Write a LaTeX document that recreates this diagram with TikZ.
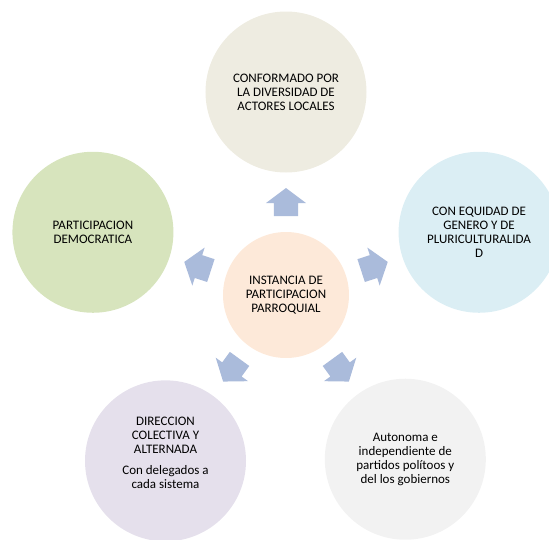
\documentclass[tikz,border=0pt]{standalone}
\usepackage{fontspec}
\setmainfont{Carlito}
\usepackage{tikz}

\definecolor{hubpeach}{RGB}{253,233,217}
\definecolor{tanfill}{RGB}{238,236,225}
\definecolor{greenfill}{RGB}{215,228,189}
\definecolor{bluefill}{RGB}{219,238,244}
\definecolor{lilacfill}{RGB}{229,224,236}
\definecolor{greyfill}{RGB}{242,242,242}
\definecolor{arrowblue}{RGB}{170,187,219}

\begin{document}
\begin{tikzpicture}[
    font=\fontsize{13}{14}\selectfont,
    bubble/.style={circle, minimum size=161pt, inner sep=0pt, align=center},
    hub/.style={circle, minimum size=126pt, inner sep=0pt, align=center, fill=hubpeach},
    blockarrow/.style={fill=arrowblue}
]
    \useasboundingbox (-286pt,-244pt) rectangle (263pt,295pt);

    % centre
    \node[hub] (hub) at (0,0) {INSTANCIA DE\\PARTICIPACION\\PARROQUIAL};

    % outer circles
    \node[bubble, fill=tanfill] (actores) at (90:203pt) {CONFORMADO POR\\LA DIVERSIDAD DE\\ACTORES LOCALES};
    \node[bubble, fill=greenfill] (democ) at (162:203pt) {PARTICIPACION\\DEMOCRATICA};
    \node[bubble, fill=bluefill] (equidad) at (18:203pt) {CON EQUIDAD DE\\GENERO Y DE\\PLURICULTURALIDA\\D};
    \node[bubble, fill=lilacfill] (direccion) at (234:205pt) {};
    \node[align=center] (direcciontext) at ([yshift=8pt]direccion.center) {DIRECCION\\COLECTIVA Y\\ALTERNADA\\[7pt]Con delegados a\\cada sistema};
    \node[bubble, fill=greyfill] (autonoma) at (306:203pt) {Autonoma e\\independiente de\\partidos polítoos y\\del los gobiernos};

    % arrows going out
    \foreach \a in {90,162,18,234,306}
        \fill[blockarrow, rotate=\a] (79pt,-12pt) -- (92pt,-12pt) -- (92pt,-20pt) -- (107pt,0pt)
            -- (92pt,20pt) -- (92pt,12pt) -- (79pt,12pt) -- cycle;
\end{tikzpicture}
\end{document}
